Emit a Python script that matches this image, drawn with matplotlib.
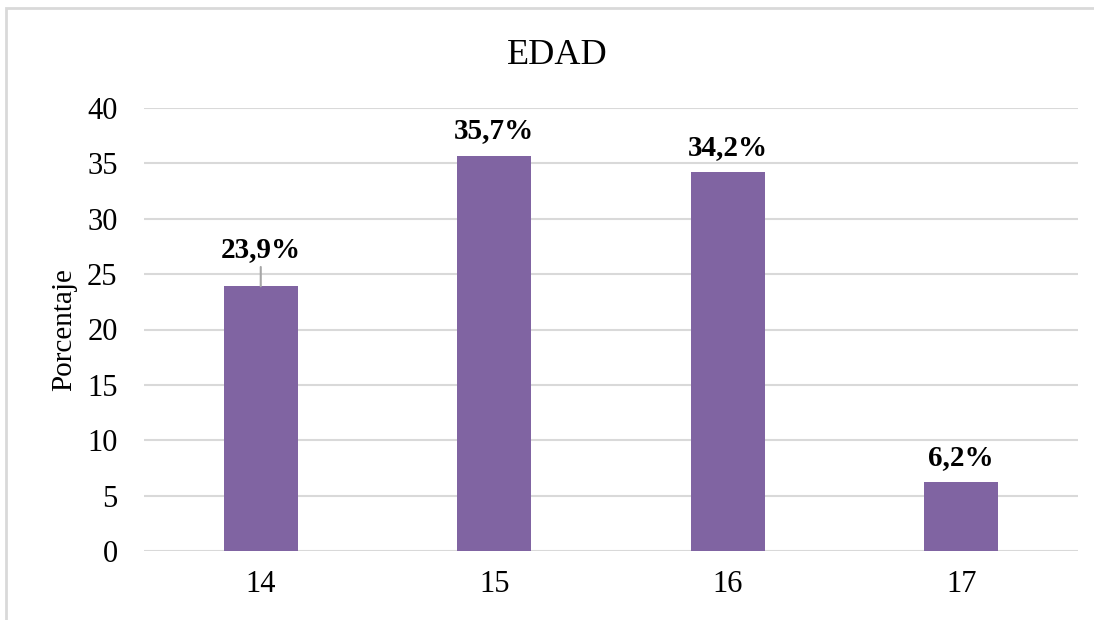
import matplotlib.pyplot as plt
from matplotlib.patches import Rectangle

plt.rcParams["font.family"] = ["Liberation Serif", "DejaVu Serif"]

edades = ["14", "15", "16", "17"]
porcentajes = [23.9, 35.7, 34.2, 6.2]
etiquetas = ["23,9%", "35,7%", "34,2%", "6,2%"]

W, H = 1094, 620
fig = plt.figure(figsize=(W / 100, H / 100), dpi=100)

# borde del gráfico (recortado a la derecha y abajo)
fig.patches.append(Rectangle((6 / W, -0.1), 1.2, 1 - 8 / H + 0.1,
                             transform=fig.transFigure, fill=False,
                             edgecolor="#D9D9D9", linewidth=2))

ax = fig.add_axes([144 / W, 1 - 551 / H, (1078 - 144) / W, (551 - 108) / H])
x = range(len(edades))
ax.bar(x, porcentajes, width=0.317, color="#8064A2", zorder=3)

ax.set_xlim(-0.5, len(edades) - 0.5)
ax.set_ylim(0, 40)
ax.set_yticks(range(0, 41, 5))
ax.set_xticks(list(x))
ax.set_xticklabels(edades)
ax.tick_params(axis="both", length=0, labelsize=22, pad=14)
ax.tick_params(axis="y", pad=19)
ax.grid(axis="y", color="#D9D9D9", linewidth=1.5, zorder=0)
for s in ax.spines.values():
    s.set_visible(False)

ax.set_ylabel("Porcentaje", fontsize=21, labelpad=7)
fig.text(557 / W, 1 - 55 / H, "EDAD", ha="center", va="center", fontsize=26)

# etiquetas de datos
for i, (v, t) in enumerate(zip(porcentajes, etiquetas)):
    if i == 0:
        ax.annotate(t, xy=(i, v), xytext=(0, 37), textcoords="offset pixels",
                    ha="center", va="center", fontsize=21, fontweight="bold",
                    arrowprops=dict(arrowstyle="-", color="#A6A6A6", lw=1.5,
                                    shrinkA=1, shrinkB=0))
    else:
        ax.annotate(t, xy=(i, v), xytext=(0, 25), textcoords="offset pixels",
                    ha="center", va="center", fontsize=21, fontweight="bold")

fig.savefig("out.png", dpi=100)
